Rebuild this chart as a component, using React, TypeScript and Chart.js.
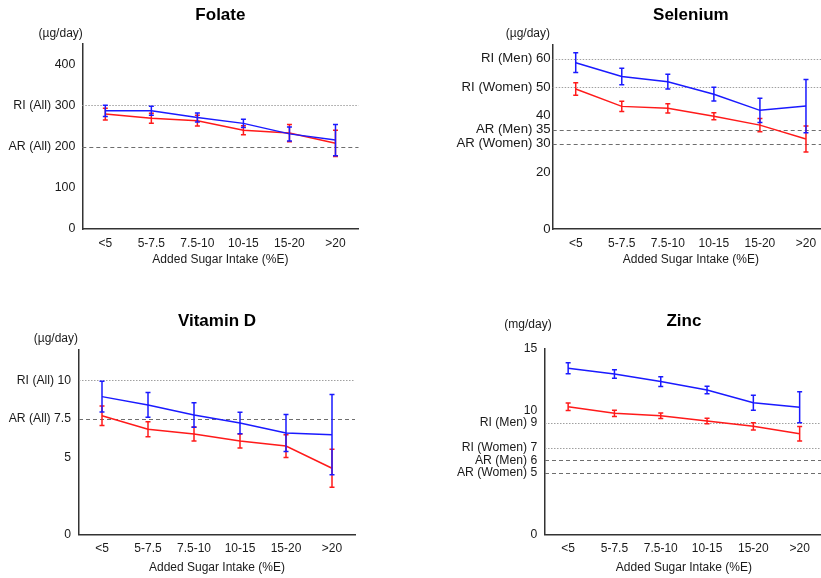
import React, { useEffect, useRef } from 'react';
import { Chart, registerables } from 'chart.js';

Chart.register(...registerables);

const FONT = 'Liberation Sans, Arial, Helvetica, sans-serif';
Chart.defaults.font.family = FONT;

const categories = ['<5', '5-7.5', '7.5-10', '10-15', '15-20', '>20'];
const xAxisTitle = 'Added Sugar Intake (%E)';

// Folate (µg/day)
const folateMen = [287, 287, 271, 256.5, 231, 216];
const folateMenErr = [13.5, 11, 11, 10, 17, 38];
const folateWomen = [279, 269, 263, 240, 233, 208];
const folateWomenErr = [14.5, 12, 13, 11, 21, 32];
const folateTicks = [0, 100, 200, 300, 400];
const folateTickLabels = ['0', '100', 'AR (All) 200', 'RI (All) 300', '400'];
const folateRI = [300];
const folateAR = [200];

// Selenium (µg/day)
const seleniumMen = [58.6, 53.7, 51.9, 47.5, 41.8, 43.3];
const seleniumMenErr = [3.5, 2.9, 2.6, 2.4, 4.3, 9.4];
const seleniumWomen = [49.3, 43.2, 42.5, 39.7, 36.6, 31.7];
const seleniumWomenErr = [2.2, 1.8, 1.6, 1.25, 2.3, 4.6];
const seleniumTicks = [0, 20, 30, 35, 40, 50, 60];
const seleniumTickLabels = ['0', '20', 'AR (Women) 30', 'AR (Men) 35', '40', 'RI (Women) 50', 'RI (Men) 60'];
const seleniumRI = [50, 60];
const seleniumAR = [30, 35];

// Vitamin D (µg/day)
const vitdMen = [8.94, 8.4, 7.75, 7.23, 6.58, 6.47];
const vitdMenErr = [1.0, 0.8, 0.8, 0.7, 1.2, 2.6];
const vitdWomen = [7.7, 6.82, 6.51, 6.06, 5.73, 4.29];
const vitdWomenErr = [0.63, 0.49, 0.45, 0.45, 0.74, 1.24];
const vitdTicks = [0, 5, 7.5, 10];
const vitdTickLabels = ['0', '5', 'AR (All) 7.5', 'RI (All) 10'];
const vitdRI = [10];
const vitdAR = [7.5];

// Zinc (mg/day)
const zincMen = [13.44, 12.98, 12.36, 11.68, 10.65, 10.28];
const zincMenErr = [0.45, 0.35, 0.4, 0.3, 0.6, 1.25];
const zincWomen = [10.33, 9.79, 9.6, 9.17, 8.74, 8.14];
const zincWomenErr = [0.3, 0.25, 0.22, 0.22, 0.3, 0.58];
const zincTicks = [0, 5, 6, 7, 9, 10, 15];
const zincTickLabels = ['0', 'AR (Women) 5', 'AR (Men) 6', 'RI (Women) 7', 'RI (Men) 9', '10', '15'];
const zincRI = [7, 9];
const zincAR = [5, 6];

const BLUE = '#1a1aff';
const RED = '#ff1a1a';
const TEXT = '#1a1a1a';

const refLinesPlugin = {
  id: 'refLines',
  beforeDatasetsDraw(chart: any, _args: any, opts: any) {
    const { ctx, chartArea: ca, scales } = chart;
    const y = scales.y;
    ctx.save();
    ctx.lineWidth = 1;
    (opts.ri || []).forEach((v: number) => {
      const py = Math.round(y.getPixelForValue(v)) + 0.5;
      ctx.strokeStyle = '#a0a0a0';
      ctx.setLineDash([1.5, 1.5]);
      ctx.beginPath();
      ctx.moveTo(ca.left, py);
      ctx.lineTo(ca.right, py);
      ctx.stroke();
    });
    (opts.ar || []).forEach((v: number) => {
      const py = Math.round(y.getPixelForValue(v)) + 0.5;
      ctx.strokeStyle = '#6e6e6e';
      ctx.setLineDash([4, 3]);
      ctx.beginPath();
      ctx.moveTo(ca.left, py);
      ctx.lineTo(ca.right, py);
      ctx.stroke();
    });
    ctx.restore();
  },
};

const errorBarsPlugin = {
  id: 'errorBars',
  afterDatasetsDraw(chart: any) {
    const { ctx, scales } = chart;
    const y = scales.y;
    ctx.save();
    for (let di = chart.data.datasets.length - 1; di >= 0; di--) {
      const ds: any = chart.data.datasets[di];
      const meta = chart.getDatasetMeta(di);
      const errs: number[] = ds.errors || [];
      ctx.strokeStyle = ds.borderColor;
      ctx.lineWidth = 1.5;
      ctx.setLineDash([]);
      meta.data.forEach((pt: any, i: number) => {
        const v = ds.data[i];
        const e = errs[i] || 0;
        const x = pt.x;
        const yt = y.getPixelForValue(v + e);
        const yb = y.getPixelForValue(v - e);
        ctx.beginPath();
        ctx.moveTo(x, yt);
        ctx.lineTo(x, yb);
        ctx.moveTo(x - 2.5, yt);
        ctx.lineTo(x + 2.5, yt);
        ctx.moveTo(x - 2.5, yb);
        ctx.lineTo(x + 2.5, yb);
        ctx.stroke();
      });
    }
    ctx.restore();
  },
};

const unitLabelPlugin = {
  id: 'unitLabel',
  afterDraw(chart: any, _args: any, opts: any) {
    const { ctx, chartArea: ca } = chart;
    ctx.save();
    ctx.font = `12px ${FONT}`;
    ctx.fillStyle = TEXT;
    ctx.textAlign = 'right';
    ctx.textBaseline = 'middle';
    ctx.fillText(opts.text, ca.left + opts.dx, ca.top - opts.dy);
    ctx.restore();
  },
};

type PanelProps = {
  title: string;
  unit: string;
  men: number[];
  menErr: number[];
  women: number[];
  womenErr: number[];
  ticks: number[];
  tickLabels: string[];
  yMax: number;
  ri: number[];
  ar: number[];
  left: number;
  top: number;
  width: number;
  height: number;
  yAxisWidth: number;
  xAxisHeight: number;
  padRight: number;
  titlePadTop: number;
  titlePadBottom: number;
  tickPadX: number;
  padBottom: number;
  tickPadY: number;
  tickFontY: number;
  unitDx: number;
  unitDy: number;
};

function Panel(p: PanelProps) {
  const ref = useRef<HTMLCanvasElement | null>(null);
  useEffect(() => {
    if (!ref.current) return;
    const chart = new Chart(ref.current, {
      type: 'line',
      data: {
        labels: categories,
        datasets: [
          {
            label: 'Men',
            data: p.men,
            errors: p.menErr,
            borderColor: BLUE,
            backgroundColor: BLUE,
            borderWidth: 1.5,
            pointRadius: 0,
            tension: 0,
          } as any,
          {
            label: 'Women',
            data: p.women,
            errors: p.womenErr,
            borderColor: RED,
            backgroundColor: RED,
            borderWidth: 1.5,
            pointRadius: 0,
            tension: 0,
          } as any,
        ],
      },
      options: {
        animation: false,
        responsive: false,
        maintainAspectRatio: false,
        devicePixelRatio: 1,
        layout: {
          padding: { left: 0, right: p.padRight, top: 0, bottom: p.padBottom },
        },
        plugins: {
          legend: { display: false },
          tooltip: { enabled: false },
          title: {
            display: true,
            text: p.title,
            color: '#000',
            fullSize: false,
            font: { size: 17, weight: 'bold', family: FONT },
            padding: { top: p.titlePadTop, bottom: p.titlePadBottom },
          },
          refLines: { ri: p.ri, ar: p.ar },
          unitLabel: { text: p.unit, dx: p.unitDx, dy: p.unitDy },
        } as any,
        scales: {
          x: {
            type: 'category',
            offset: true,
            grid: { display: true, drawOnChartArea: false, drawTicks: false },
            border: { display: true, color: '#333', width: 1.5 },
            afterFit: (scale: any) => {
              scale.height = p.xAxisHeight;
            },
            ticks: {
              color: TEXT,
              padding: p.tickPadX,
              maxRotation: 0,
              autoSkip: false,
              font: { size: 12, family: FONT },
            },
            title: {
              display: true,
              text: xAxisTitle,
              color: TEXT,
              font: { size: 12, family: FONT },
              padding: { top: 0, bottom: 0 },
            },
          },
          y: {
            type: 'linear',
            min: 0,
            max: p.yMax,
            grid: { display: true, drawOnChartArea: false, drawTicks: false },
            border: { display: true, color: '#333', width: 1.5 },
            afterBuildTicks: (scale: any) => {
              scale.ticks = p.ticks.map((v) => ({ value: v }));
            },
            afterFit: (scale: any) => {
              scale.width = p.yAxisWidth;
            },
            ticks: {
              color: TEXT,
              padding: p.tickPadY,
              autoSkip: false,
              font: { size: p.tickFontY, family: FONT },
              callback: (_v: any, i: number) => p.tickLabels[i],
            },
          },
        },
      },
      plugins: [refLinesPlugin, errorBarsPlugin, unitLabelPlugin],
    });
    return () => chart.destroy();
  }, []);
  return (
    <canvas
      ref={ref}
      width={p.width}
      height={p.height}
      style={{ position: 'absolute', left: p.left, top: p.top, width: p.width, height: p.height }}
    />
  );
}

export default function App() {
  return (
    <div
      style={{
        position: 'fixed',
        left: 0,
        top: 0,
        width: 821,
        height: 578,
        overflow: 'hidden',
        background: '#fff',
      }}
    >
      <Panel
        title="Folate"
        unit="(µg/day)"
        men={folateMen}
        menErr={folateMenErr}
        women={folateWomen}
        womenErr={folateWomenErr}
        ticks={folateTicks}
        tickLabels={folateTickLabels}
        yMax={450}
        ri={folateRI}
        ar={folateAR}
        left={0}
        top={0}
        width={410}
        height={289}
        yAxisWidth={82.3}
        xAxisHeight={38.2}
        padRight={51.5}
        titlePadTop={5}
        titlePadBottom={18.3}
        tickPadX={7}
        padBottom={21.8}
        tickPadY={7}
        tickFontY={12.4}
        unitDx={0.5}
        unitDy={10.4}
      />
      <Panel
        title="Selenium"
        unit="(µg/day)"
        men={seleniumMen}
        menErr={seleniumMenErr}
        women={seleniumWomen}
        womenErr={seleniumWomenErr}
        ticks={seleniumTicks}
        tickLabels={seleniumTickLabels}
        yMax={65}
        ri={seleniumRI}
        ar={seleniumAR}
        left={410}
        top={0}
        width={420}
        height={289}
        yAxisWidth={142.7}
        xAxisHeight={38.2}
        padRight={1}
        titlePadTop={5}
        titlePadBottom={19.1}
        tickPadX={7}
        padBottom={21.8}
        tickPadY={2}
        tickFontY={13.2}
        unitDx={-2.7}
        unitDy={11.2}
      />
      <Panel
        title="Vitamin D"
        unit="(µg/day)"
        men={vitdMen}
        menErr={vitdMenErr}
        women={vitdWomen}
        womenErr={vitdWomenErr}
        ticks={vitdTicks}
        tickLabels={vitdTickLabels}
        yMax={12}
        ri={vitdRI}
        ar={vitdAR}
        left={0}
        top={289}
        width={410}
        height={289}
        yAxisWidth={79}
        xAxisHeight={40.6}
        padRight={55}
        titlePadTop={22.5}
        titlePadBottom={17.6}
        tickPadX={7.5}
        padBottom={3.1}
        tickPadY={8}
        tickFontY={12.2}
        unitDx={-1}
        unitDy={10.5}
      />
      <Panel
        title="Zinc"
        unit="(mg/day)"
        men={zincMen}
        menErr={zincMenErr}
        women={zincWomen}
        womenErr={zincWomenErr}
        ticks={zincTicks}
        tickLabels={zincTickLabels}
        yMax={15}
        ri={zincRI}
        ar={zincAR}
        left={410}
        top={289}
        width={420}
        height={289}
        yAxisWidth={135}
        xAxisHeight={40.6}
        padRight={7.2}
        titlePadTop={22.5}
        titlePadBottom={17.1}
        tickPadX={7.5}
        padBottom={3.1}
        tickPadY={7.7}
        tickFontY={12.2}
        unitDx={6.7}
        unitDy={24}
      />
    </div>
  );
}
